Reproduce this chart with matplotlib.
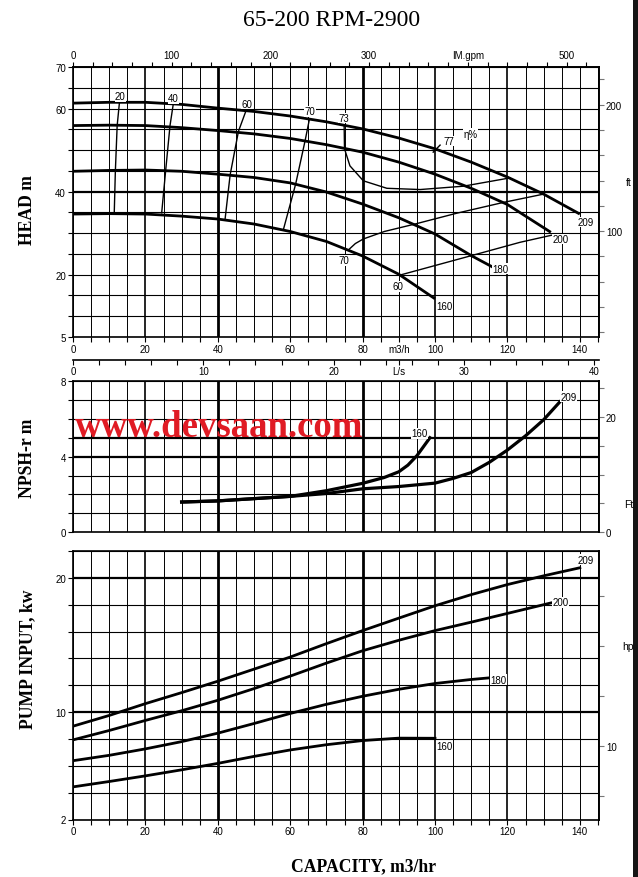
import numpy as np
import matplotlib
matplotlib.use('Agg')
import matplotlib.pyplot as plt
from matplotlib.patches import Rectangle

W, H = 638, 878
SERIF = 'Liberation Serif'
SANS = 'Liberation Sans'

# head curves (m3/h, m) per impeller diameter
q_h209 = [0, 10, 20, 30, 40, 50, 60, 70, 80, 90, 100, 110, 120, 130, 140]
h209 = [61.3, 61.5, 61.5, 61.0, 60.1, 59.3, 58.2, 56.8, 55.1, 52.9, 50.3, 47.1, 43.5, 39.4, 34.6]
q_h200 = [0, 10, 20, 30, 40, 50, 60, 70, 80, 90, 100, 110, 120, 132]
h200 = [55.9, 56.0, 55.9, 55.4, 54.7, 53.9, 52.8, 51.3, 49.5, 47.1, 44.2, 40.8, 36.9, 30.2]
q_h180 = [0, 10, 20, 30, 40, 50, 60, 70, 80, 90, 100, 110, 116]
h180 = [44.9, 45.1, 45.2, 44.9, 44.2, 43.4, 42.1, 39.9, 37.0, 33.7, 29.8, 24.6, 21.8]
q_h160 = [0, 10, 20, 30, 40, 50, 60, 70, 80, 90, 100]
h160 = [34.6, 34.7, 34.6, 34.1, 33.4, 32.2, 30.4, 28.0, 24.5, 20.1, 14.2]

# iso-efficiency lines (q, H)
eta20_q = [11.4, 11.7, 12.2, 12.8]
eta20_h = [35.0, 44.9, 55.9, 61.2]
eta40_q = [24.5, 25.6, 26.8, 27.7]
eta40_h = [34.9, 45.1, 55.9, 61.1]
eta60_q = [42.0, 43.4, 45.7, 47.8]
eta60_h = [33.3, 44.0, 54.5, 59.5]
eta70a_q = [58.1, 61.5, 64.1, 65.3]
eta70a_h = [30.8, 41.8, 52.2, 57.4]
eta70b_q = [76.0, 78.0, 80.2, 86.0, 94.5, 106.0, 118.9, 130.0]
eta70b_h = [25.9, 27.5, 28.6, 30.4, 32.2, 34.8, 37.4, 39.4]
eta60b_q = [90.3, 110.1, 123.5, 132.2]
eta60b_h = [19.9, 24.6, 27.8, 29.5]
eta73_q = [74.9, 75.0, 76.5, 80.2, 86.7, 95.9, 107.8, 120.7]
eta73_h = [55.9, 50.3, 46.2, 42.6, 40.8, 40.5, 41.3, 43.3]
eta77_q = [99.5, 101.4]
eta77_h = [49.5, 51.2]

# NPSH-r (m)
q_n160 = [30, 40, 50, 60, 70, 80, 86, 90, 92.5, 95, 98.6]
n160 = [1.6, 1.66, 1.78, 1.9, 2.2, 2.59, 2.9, 3.2, 3.55, 4.05, 5.0]
q_n209 = [30, 40, 50, 60, 70, 80, 90, 100, 105, 110, 115, 120, 125, 130, 134.5]
n209 = [1.6, 1.66, 1.78, 1.9, 2.05, 2.3, 2.42, 2.6, 2.85, 3.16, 3.7, 4.35, 5.1, 5.95, 6.9]

# pump input (kW)
q_p209 = [0, 10, 20, 30, 40, 50, 60, 70, 80, 90, 100, 110, 120, 130, 140]
p209 = [8.95, 9.75, 10.63, 11.45, 12.3, 13.2, 14.1, 15.1, 16.07, 17.0, 17.92, 18.75, 19.5, 20.15, 20.75]
q_p200 = [0, 10, 20, 30, 40, 50, 60, 70, 80, 90, 100, 110, 120, 132]
p200 = [7.93, 8.63, 9.38, 10.1, 10.88, 11.75, 12.68, 13.65, 14.57, 15.35, 16.07, 16.7, 17.35, 18.13]
q_p180 = [0, 10, 20, 30, 40, 50, 60, 70, 80, 90, 100, 110, 115]
p180 = [6.38, 6.78, 7.26, 7.8, 8.43, 9.15, 9.9, 10.58, 11.18, 11.7, 12.13, 12.43, 12.55]
q_p160 = [0, 10, 20, 30, 40, 50, 60, 70, 80, 90, 100]
p160 = [4.43, 4.83, 5.25, 5.7, 6.18, 6.7, 7.18, 7.57, 7.88, 8.06, 8.05]

QMAX = 145.3


def px_axes(fig, left, top, right, bottom):
    return fig.add_axes([left / W, 1 - bottom / H, (right - left) / W, (bottom - top) / H])


def vgrid(ax):
    for q in range(0, 146, 5):
        lw = 0.7
        if q in (40, 80):
            lw = 2.0
        elif q in (20, 100, 120):
            lw = 1.2
        ax.axvline(q, color='black', lw=lw, zorder=1)


def hgrid(ax, vals, thick=()):
    for v in vals:
        ax.axhline(v, color='black', lw=1.6 if v in thick else 0.8, zorder=1)


def style(ax):
    for s in ax.spines.values():
        s.set_linewidth(1.2)
    ax.tick_params(which='both', direction='out', length=3.5, width=0.8, labelsize=7, pad=1.5)
    for lab in ax.get_xticklabels() + ax.get_yticklabels():
        lab.set_family(SANS)


def label(ax, x, y, s):
    ax.text(x, y, s, fontsize=7, family=SANS, ha='center', va='center', zorder=5,
            bbox=dict(facecolor='white', edgecolor='none', pad=0.3))


fig = plt.figure(figsize=(W / 100, H / 100), dpi=100)

# ---- HEAD ----
ax1 = px_axes(fig, 73, 68, 599, 338)
ax1.set_xlim(0, QMAX)
ax1.set_ylim(5, 70)
vgrid(ax1)
hgrid(ax1, range(5, 71, 5), thick=(40,))
for q, h in [(q_h209, h209), (q_h200, h200), (q_h180, h180), (q_h160, h160)]:
    ax1.plot(q, h, color='black', lw=2.0, zorder=3, solid_capstyle='butt')
for q, h in [(eta20_q, eta20_h), (eta40_q, eta40_h), (eta60_q, eta60_h), (eta70a_q, eta70a_h),
             (eta70b_q, eta70b_h), (eta60b_q, eta60b_h), (eta73_q, eta73_h), (eta77_q, eta77_h)]:
    ax1.plot(q, h, color='black', lw=1.0, zorder=3)
ax1.set_xticks([0, 20, 40, 60, 80, 90, 100, 120, 140],
               labels=['0', '20', '40', '60', '80', 'm3/h', '100', '120', '140'])
ax1.set_xticks(range(0, 146, 5), minor=True)
ax1.set_yticks([5, 20, 40, 60, 70], labels=['5', '20', '40', '60', '70'])
ax1.set_yticks(range(5, 71, 5), minor=True)
style(ax1)
for t in [(141.5, 32.7, '209'), (134.6, 28.6, '200'), (118.1, 21.4, '180'), (102.6, 12.5, '160'),
          (74.9, 23.5, '70'), (89.8, 17.2, '60'), (74.9, 57.7, '73'), (103.7, 52.2, '77'),
          (109.7, 53.9, 'η%'), (65.5, 59.3, '70'), (48.0, 61.1, '60'), (27.8, 62.5, '40'),
          (13.1, 62.9, '20')]:
    label(ax1, *t)

gpm = ax1.secondary_xaxis('top', functions=(lambda x: x * 3.666, lambda x: x / 3.666))
gpm.set_xticks([0, 100, 200, 300, 400, 500], labels=['0', '100', '200', '300', 'IM.gpm', '500'])
gpm.set_xticks(range(0, 531, 20), minor=True)
style(gpm)

ft = ax1.secondary_yaxis('right', functions=(lambda m: m * 3.2808, lambda f: f / 3.2808))
ft.set_yticks([100, 200], labels=['100', '200'])
ft.set_yticks(range(20, 221, 20), minor=True)
style(ft)
ft.tick_params(which='both', color='#777777')

# ---- L/s axis ----
axl = px_axes(fig, 73, 352, 599, 360.5)
axl.set_xlim(0, QMAX / 3.6)
axl.patch.set_visible(False)
for s in ['top', 'left', 'right']:
    axl.spines[s].set_visible(False)
axl.set_yticks([])
axl.set_xticks([0, 10, 20, 25, 30, 40], labels=['0', '10', '20', 'L/s', '30', '40'])
axl.set_xticks(np.arange(0, 41, 2), minor=True)
style(axl)

# ---- NPSH ----
ax2 = px_axes(fig, 73, 382, 599, 533.3)
ax2.set_xlim(0, QMAX)
ax2.set_ylim(0, 8)
vgrid(ax2)
hgrid(ax2, range(0, 9), thick=(4, 5))
ax2.plot(q_n160, n160, color='black', lw=2.3, zorder=3)
ax2.plot(q_n209, n209, color='black', lw=2.3, zorder=3)
ax2.set_xticks([])
ax2.set_yticks([0, 4, 8], labels=['0', '4', '8'])
ax2.set_yticks(range(0, 9), minor=True)
style(ax2)
label(ax2, 95.8, 5.24, '160')
label(ax2, 137.0, 7.17, '209')
ft2 = ax2.secondary_yaxis('right', functions=(lambda m: m * 3.2808, lambda f: f / 3.2808))
ft2.set_yticks([0, 20], labels=['0', '20'])
ft2.set_yticks(range(0, 26, 5), minor=True)
style(ft2)
ft2.tick_params(which='both', color='#777777')

# ---- PUMP INPUT ----
ax3 = px_axes(fig, 73, 552, 599, 820.5)
ax3.set_xlim(0, QMAX)
ax3.set_ylim(2, 22)
vgrid(ax3)
hgrid(ax3, range(2, 23, 2), thick=(10, 20))
for q, p in [(q_p209, p209), (q_p200, p200), (q_p180, p180), (q_p160, p160)]:
    ax3.plot(q, p, color='black', lw=2.0, zorder=3)
ax3.set_xticks(range(0, 141, 20))
ax3.set_xticks(range(0, 146, 5), minor=True)
ax3.set_yticks([2, 10, 20], labels=['2', '10', '20'])
ax3.set_yticks(range(2, 23, 2), minor=True)
style(ax3)
for t in [(141.5, 21.35, '209'), (134.6, 18.17, '200'), (117.6, 12.4, '180'), (102.6, 7.44, '160')]:
    label(ax3, *t)
hp = ax3.secondary_yaxis('right', functions=(lambda k: k / 0.7457, lambda h: h * 0.7457))
hp.set_yticks([10], labels=['10'])
hp.set_yticks(range(5, 31, 5), minor=True)
style(hp)
hp.tick_params(which='both', color='#777777')

# unit labels on the right
fig.text(629 / W, 1 - 182.5 / H, 'ft', fontsize=7.5, family=SANS, ha='center', va='center')
fig.text(629 / W, 1 - 505 / H, 'Ft', fontsize=7.5, family=SANS, ha='center', va='center')
fig.text(628 / W, 1 - 647 / H, 'hp', fontsize=7.5, family=SANS, ha='center', va='center')

# titles and axis names
fig.text(332 / W, 1 - 20 / H, '65-200 RPM-2900', fontsize=17, family=SERIF, ha='center', va='center')
fig.text(27 / W, 1 - 210 / H, 'HEAD m', rotation=90, fontsize=12.7, family=SERIF,
         weight='bold', ha='center', va='center')
fig.text(27 / W, 1 - 458 / H, 'NPSH-r m', rotation=90, fontsize=12.7, family=SERIF,
         weight='bold', ha='center', va='center')
fig.text(28 / W, 1 - 659 / H, 'PUMP INPUT, kw', rotation=90, fontsize=12.7, family=SERIF,
         weight='bold', ha='center', va='center')
fig.text(364 / W, 1 - 867 / H, 'CAPACITY, m3/hr', fontsize=12.7, family=SERIF,
         weight='bold', ha='center', va='center')
fig.text(75 / W, 1 - 437 / H, 'www.devsaan.com', fontsize=26.5, family=SERIF, weight='bold',
         color='#e01b24', ha='left', va='baseline', zorder=10)

# dark strip at the right edge
fig.patches.append(Rectangle((633 / W, 0), 5 / W, 1, transform=fig.transFigure,
                             facecolor='#151515', edgecolor='none'))

fig.savefig('out.png', dpi=100)
